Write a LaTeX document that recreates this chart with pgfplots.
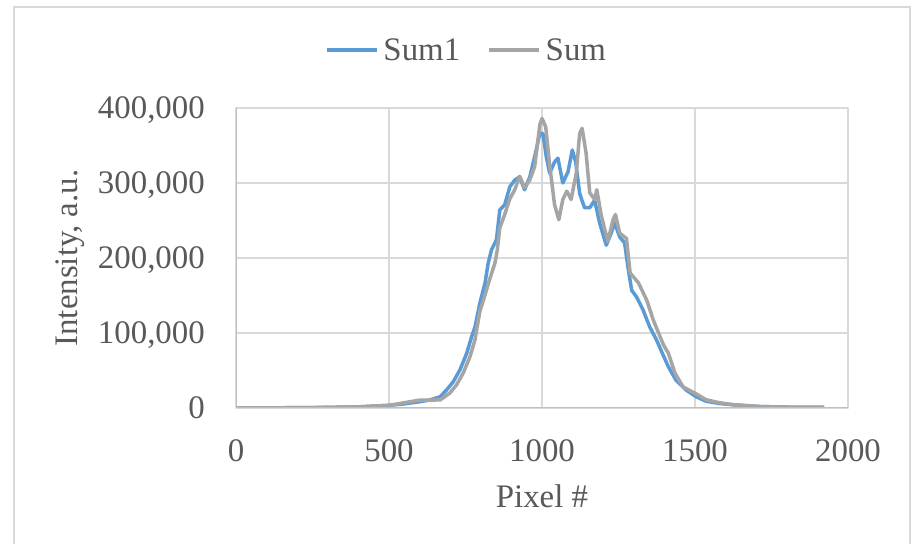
\documentclass[border=0pt]{standalone}
\usepackage{pgfplots}
\pgfplotsset{compat=1.18}
\usepackage{fontspec}
\setmainfont{Liberation Serif}
\definecolor{txt}{HTML}{595959}
\definecolor{gridc}{HTML}{D9D9D9}
\definecolor{axc}{HTML}{BFBFBF}
\definecolor{sumone}{HTML}{5B9BD5}
\definecolor{sumc}{HTML}{A5A5A5}
\begin{document}
\begin{tikzpicture}[x=1bp,y=1bp,font=\fontsize{33}{40}\selectfont]
\path[use as bounding box] (0,0) rectangle (912,544);
\fill[white] (0,0) rectangle (912,544);
\draw[gridc, line width=1.5bp] (14,-20) -- (14,537) -- (910,537) -- (910,-20);
\begin{axis}[
  at={(236bp,136bp)}, anchor=south west,
  width=612bp, height=300bp, scale only axis,
  xmin=0, xmax=2000, ymin=0, ymax=400000,
  xtick={0,500,1000,1500,2000},
  ytick={0,100000,200000,300000,400000},
  scaled y ticks=false, scaled x ticks=false,
  major tick length=0pt,
  grid=major,
  major grid style={gridc, line width=1.5bp},
  axis line style={gridc, line width=1.5bp},
  /pgf/number format/assume math mode=true,
  xticklabel style={/pgf/number format/1000 sep={}},
  yticklabel style={/pgf/number format/fixed, /pgf/number format/1000 sep={,}},
  every tick label/.append style={text=txt},
  xticklabel style={anchor=base, inner sep=0pt, yshift=-54bp},
  yticklabel style={anchor=base east, inner sep=0pt, xshift=-31bp, yshift=-11bp},
  xlabel={Pixel \#},
  ylabel={Intensity, a.u.},
  xlabel style={at={(axis description cs:0.5,-0.3333)}, anchor=base, inner sep=0pt, text=txt},
  ylabel style={at={(axis description cs:-0.2582,0.5)}, anchor=base, inner sep=0pt, text=txt},
  legend columns=2,
  legend style={at={(axis description cs:0.375,1.1933)}, anchor=center, draw=none, fill=none,
    text=txt, nodes={inner sep=0pt}, column sep=5bp,
    /tikz/every even column/.append style={column sep=27bp}},
  legend image code/.code={\draw[#1] (0bp,0bp) -- (50bp,0bp);},
  line join=round,
]
\addplot[sumone, line width=3.5bp] coordinates {
(0,0) (100,200) (200,400) (300,800) (400,1500) (500,3500) (550,5500)
(601,8400) (634,10700) (667,15000) (688,24000) (710,35000) (732,51000)
(754,73000) (770,95000) (781,108000) (797,140000) (814,167000) (824,193000)
(835,211000) (851,224000) (862,264000) (878,271000) (895,295000) (911,304000)
(927,308000) (943,291000) (960,308000) (976,335000) (993,366000) (1003,366000)
(1014,335000) (1025,313000) (1041,328000) (1052,333000) (1068,300000)
(1085,315000) (1099,344000) (1110,328000) (1123,286000) (1139,267000)
(1156,267000) (1172,277000) (1188,247000) (1210,217000) (1226,233000)
(1237,247000) (1254,228000) (1270,220000) (1280,190000) (1293,157000)
(1309,148000) (1330,131000) (1352,108000) (1374,91000) (1391,75000)
(1413,55000) (1438,37000) (1471,24000) (1504,15000) (1536,9000) (1580,6000)
(1623,4400) (1710,2000) (1800,1000) (1920,800)
};
\addlegendentry{Sum1}
\addplot[sumc, line width=3.5bp] coordinates {
(0,0) (100,200) (200,400) (300,700) (400,1500) (500,3500) (557,7500)
(600,10500) (667,10700) (699,20000) (721,31000) (743,47000) (765,69000)
(781,91000) (797,129000) (814,151000) (830,173000) (846,193000) (854,211000)
(862,240000) (878,258000) (895,279000) (911,291000) (927,309000) (943,294000)
(960,304000) (976,322000) (993,378000) (1000,386000) (1012,375000)
(1025,324000) (1041,271000) (1055,251000) (1068,278000) (1081,289000)
(1095,278000) (1112,313000) (1123,366000) (1131,373000) (1144,340000)
(1156,287000) (1172,278000) (1179,291000) (1193,258000) (1215,222000)
(1232,251000) (1240,258000) (1254,233000) (1276,226000) (1288,180000)
(1315,167000) (1342,144000) (1364,117000) (1397,84000) (1413,73000)
(1434,47000) (1461,28000) (1499,20000) (1536,11000) (1580,7000)
(1623,4400) (1710,2000) (1800,1200) (1923,1000)
};
\addlegendentry{Sum}
\draw[axc, line width=1.5bp] (rel axis cs:0,1) -- (rel axis cs:0,0) -- (rel axis cs:1,0);
\end{axis}
\end{tikzpicture}
\end{document}
